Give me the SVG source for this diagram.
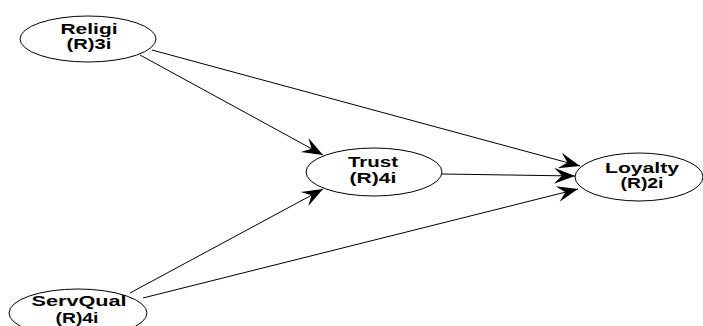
<svg xmlns="http://www.w3.org/2000/svg" width="703" height="326" viewBox="0 0 703 326">
<style>
.node ellipse{fill:#fff;stroke:#000;stroke-width:1}
.node text{font-family:"Liberation Sans",Arial,sans-serif;font-weight:bold;font-size:14px;fill:#000;text-anchor:middle}
.edges line{stroke:#000;stroke-width:1;marker-end:url(#arr)}
</style>
<defs>
<marker id="arr" markerUnits="userSpaceOnUse" markerWidth="24" markerHeight="18" viewBox="-22 -9 24 18" refX="0" refY="0" orient="auto" overflow="visible">
<path d="M0,0 L-21,-8 L-13,0 L-21,8 Z" fill="#000"/>
</marker>
</defs>
<rect width="703" height="326" fill="#fff"/>
<g id="edges" class="edges">
<line x1="140" y1="55" x2="323" y2="155"/>
<line x1="152" y1="50" x2="580" y2="166"/>
<line x1="442" y1="174" x2="575" y2="176"/>
<line x1="130" y1="293" x2="323" y2="189"/>
<line x1="143" y1="298" x2="578" y2="189"/>
</g>
<g id="religi" class="node">
<ellipse cx="88" cy="39" rx="68" ry="23"/>
<text x="89" y="34" textLength="57" lengthAdjust="spacingAndGlyphs">Religi</text>
<text x="89" y="49" textLength="45" lengthAdjust="spacingAndGlyphs">(R)3i</text>
</g>
<g id="trust" class="node">
<ellipse cx="374" cy="172" rx="68" ry="24"/>
<text x="373" y="167" textLength="50" lengthAdjust="spacingAndGlyphs">Trust</text>
<text x="373" y="183" textLength="47" lengthAdjust="spacingAndGlyphs">(R)4i</text>
</g>
<g id="loyalty" class="node">
<ellipse cx="639" cy="177" rx="64" ry="24"/>
<text x="642" y="173" textLength="74" lengthAdjust="spacingAndGlyphs">Loyalty</text>
<text x="642" y="188" textLength="43" lengthAdjust="spacingAndGlyphs">(R)2i</text>
</g>
<g id="servqual" class="node">
<ellipse cx="78" cy="313" rx="69" ry="24"/>
<text x="79" y="306" textLength="95" lengthAdjust="spacingAndGlyphs">ServQual</text>
<text x="77" y="323" textLength="43" lengthAdjust="spacingAndGlyphs">(R)4i</text>
</g>
</svg>
